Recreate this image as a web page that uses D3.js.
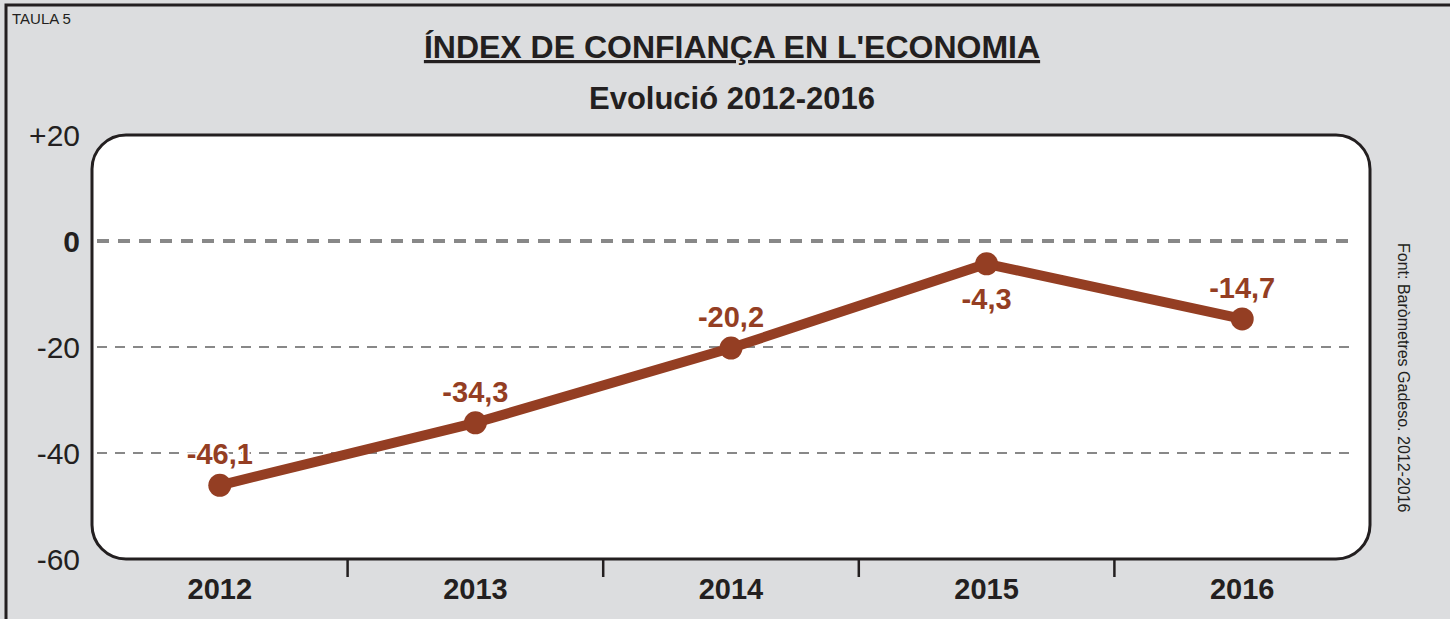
<!DOCTYPE html>
<html>
<head>
<meta charset="utf-8">
<script src="https://cdn.jsdelivr.net/npm/d3@7"></script>
<style>
  body { margin: 0; background: #dcdddf; }
  svg { display: block; font-family: "Liberation Sans", Arial, sans-serif; }
</style>
</head>
<body>
<div id="chart"></div>
<script>
// data
const years = ["2012", "2013", "2014", "2015", "2016"];
const values = [-46.1, -34.3, -20.2, -4.3, -14.7];
const labels = ["-46,1", "-34,3", "-20,2", "-4,3", "-14,7"];
const labelAbove = [true, true, true, false, true];
const yTicks = [20, 0, -20, -40, -60];
const yTickLabels = ["+20", "0", "-20", "-40", "-60"];
const gridValues = [0, -20, -40];

const W = 1450, H = 619;
const margin = {top: 135, right: 80, bottom: 60, left: 92},
    width = 1370 - margin.left,
    height = 559 - margin.top;

const lineColor = "#943e23";
const textColor = "#231f20";

const svg = d3.select("#chart")
    .append("svg")
    .attr("width", W)
    .attr("height", H);

// frame
svg.append("rect")
    .attr("x", 0).attr("y", 0).attr("width", W).attr("height", H)
    .attr("fill", "#dcdddf");
svg.append("path")
    .attr("d", `M6,${H} L6,5 L${W},5`)
    .attr("fill", "none")
    .attr("stroke", "#231f20")
    .attr("stroke-width", 3);

svg.append("text")
    .attr("x", 12).attr("y", 24)
    .attr("font-size", 15)
    .attr("fill", textColor)
    .text("TAULA 5");

// titles
svg.append("text")
    .attr("x", 732).attr("y", 58)
    .attr("text-anchor", "middle")
    .attr("font-size", 32)
    .attr("font-weight", "bold")
    .attr("fill", textColor)
    .attr("text-decoration", "underline")
    .text("ÍNDEX DE CONFIANÇA EN L'ECONOMIA");

svg.append("text")
    .attr("x", 732).attr("y", 109)
    .attr("text-anchor", "middle")
    .attr("font-size", 31)
    .attr("font-weight", "bold")
    .attr("fill", textColor)
    .text("Evolució 2012-2016");

const g = svg.append("g")
    .attr("transform", `translate(${margin.left}, ${margin.top})`);

// scales
const x = d3.scaleBand()
    .domain(years)
    .range([0, width]);

const y = d3.scaleLinear()
    .domain([-60, 20])
    .range([height, 0]);

// plot panel
g.append("rect")
    .attr("x", 0).attr("y", 0)
    .attr("width", width).attr("height", height)
    .attr("rx", 34).attr("ry", 34)
    .attr("fill", "#ffffff")
    .attr("stroke", "#231f20")
    .attr("stroke-width", 3);

// gridlines
g.selectAll(".grid")
    .data(gridValues)
    .join("line")
    .attr("x1", 5).attr("x2", width - 14)
    .attr("y1", d => y(d)).attr("y2", d => y(d))
    .attr("stroke", "#888888")
    .attr("stroke-width", d => d === 0 ? 4 : 2)
    .attr("stroke-dasharray", d => d === 0 ? "12,9" : "10,8");

// y labels
g.selectAll(".ylab")
    .data(yTicks)
    .join("text")
    .attr("x", -12)
    .attr("y", d => y(d))
    .attr("dy", "0.36em")
    .attr("text-anchor", "end")
    .attr("font-size", 30)
    .attr("font-weight", d => d === 0 ? "bold" : "normal")
    .attr("fill", textColor)
    .text((d, i) => yTickLabels[i]);

// x axis ticks between bands
const boundaries = years.slice(1).map(d => x(d));
g.selectAll(".xtick")
    .data(boundaries)
    .join("line")
    .attr("x1", d => d).attr("x2", d => d)
    .attr("y1", height).attr("y2", height + 18)
    .attr("stroke", "#231f20")
    .attr("stroke-width", 2.5);

g.selectAll(".xlab")
    .data(years)
    .join("text")
    .attr("x", d => x(d) + x.bandwidth() / 2)
    .attr("y", height + 40)
    .attr("text-anchor", "middle")
    .attr("font-size", 29)
    .attr("font-weight", "bold")
    .attr("fill", textColor)
    .text(d => d);

// line
const pts = years.map((d, i) => [x(d) + x.bandwidth() / 2, y(values[i])]);
g.append("path")
    .datum(pts)
    .attr("d", d3.line())
    .attr("fill", "none")
    .attr("stroke", lineColor)
    .attr("stroke-width", 10)
    .attr("stroke-linejoin", "round");

g.selectAll(".dot")
    .data(pts)
    .join("circle")
    .attr("cx", d => d[0]).attr("cy", d => d[1])
    .attr("r", 11.5)
    .attr("fill", lineColor);

// value labels
g.selectAll(".vlab")
    .data(pts)
    .join("text")
    .attr("x", d => d[0])
    .attr("y", (d, i) => labelAbove[i] ? d[1] - 21 : d[1] + 45)
    .attr("text-anchor", "middle")
    .attr("font-size", 29)
    .attr("font-weight", "bold")
    .attr("fill", lineColor)
    .attr("stroke", "#ffffff")
    .attr("stroke-width", 4)
    .attr("paint-order", "stroke")
    .text((d, i) => labels[i]);

// source
svg.append("text")
    .attr("transform", "translate(1398, 243) rotate(90)")
    .attr("font-size", 16)
    .attr("fill", textColor)
    .text("Font: Baròmetres Gadeso. 2012-2016");
</script>
</body>
</html>
